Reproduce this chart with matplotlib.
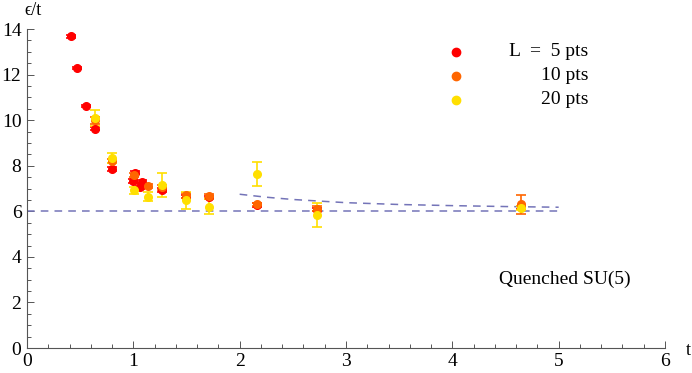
import numpy as np
import matplotlib.pyplot as plt
from matplotlib.ticker import MultipleLocator

plt.rcParams['font.family'] = ['Liberation Serif', 'DejaVu Serif']

# L = 5 pts
t5 = [0.41, 0.47, 0.555, 0.64, 0.80, 1.00, 1.02, 1.06, 1.08, 1.27, 1.50, 1.71, 2.16, 2.73, 4.65]
e5 = [13.68, 12.30, 10.62, 9.63, 7.86, 7.32, 7.70, 7.05, 7.30, 6.95, 6.65, 6.62, 6.28, 6.08, 6.18]
d5 = [0.06, 0.05, 0.05, 0.07, 0.07, 0.08, 0.08, 0.08, 0.08, 0.08, 0.07, 0.07, 0.07, 0.08, 0.07]

# L = 10 pts
t10 = [0.64, 0.80, 1.01, 1.135, 1.27, 1.50, 1.71, 2.16, 2.73, 4.65]
e10 = [10.00, 8.20, 7.60, 7.12, 7.05, 6.70, 6.68, 6.30, 6.12, 6.30]
d10 = [0.15, 0.10, 0.10, 0.08, 0.10, 0.10, 0.10, 0.08, 0.12, 0.40]

# L = 20 pts
t20 = [0.64, 0.80, 1.01, 1.135, 1.27, 1.50, 1.71, 2.16, 2.73, 4.65]
e20 = [10.10, 8.35, 6.93, 6.65, 7.15, 6.48, 6.20, 7.65, 5.85, 6.15]
d20 = [0.35, 0.23, 0.15, 0.18, 0.53, 0.37, 0.33, 0.52, 0.52, 0.10]

# dashed reference lines
t_flat = [0.0, 5.0]
e_flat = [6.0, 6.0]
t_curve = [2.0, 2.25, 2.5, 2.75, 3.0, 3.5, 4.0, 4.5, 5.0]
e_curve = [6.75, 6.62, 6.52, 6.45, 6.38, 6.30, 6.25, 6.21, 6.18]

fig = plt.figure(figsize=(6.92, 3.73), dpi=100)
ax = fig.add_axes([0.039, 0.067, 0.922, 0.855])

line_col = '#7474b8'
ax.plot(t_flat, e_flat, '--', color=line_col, lw=1.1, dashes=(5, 4))
ax.plot(t_curve, e_curve, '--', color=line_col, lw=1.1, dashes=(5, 4))

series = [(t5, e5, d5, '#ff0000'), (t10, e10, d10, '#ff6600'), (t20, e20, d20, '#ffdf00')]
for t, e, d, c in series:
    ax.errorbar(t, e, yerr=d, fmt='o', color=c, ms=5.5, elinewidth=1.2,
                capsize=3.5, capthick=1.2, mec=c)

ax.set_xlim(0, 6)
ax.set_ylim(0, 14)
for s in ['top', 'right']:
    ax.spines[s].set_visible(False)
for s in ['left', 'bottom']:
    ax.spines[s].set_color('#555555')
    ax.spines[s].set_linewidth(0.8)

ax.xaxis.set_major_locator(MultipleLocator(1))
ax.xaxis.set_minor_locator(MultipleLocator(0.2))
ax.yaxis.set_major_locator(MultipleLocator(2))
ax.yaxis.set_minor_locator(MultipleLocator(0.5))
ax.tick_params(which='both', direction='in', color='#555555', labelsize=14, width=0.7)
ax.tick_params(which='major', length=5)
ax.tick_params(which='minor', length=3)
ax.tick_params(axis='x', pad=3.5)
ax.tick_params(axis='y', pad=4)

ax.text(-0.02, 14.45, 'ϵ/t', fontsize=13, ha='left', va='bottom', clip_on=False)
ax.text(6.2, -0.1, 't', fontsize=13, ha='left', va='center', clip_on=False)

# legend
leg_y = [13.0, 11.95, 10.9]
leg_lab = ['L  =  5 pts', '10 pts', '20 pts']
for (t, e, d, c), y, lab in zip(series, leg_y, leg_lab):
    ax.plot([4.03], [y], marker='o', ms=6, color=c, clip_on=False)
    ax.text(5.28, y, lab, fontsize=14, ha='right', va='center')

ax.text(5.06, 3.0, 'Quenched SU(5)', fontsize=14, ha='center', va='center')

fig.savefig('out.png', dpi=100)
